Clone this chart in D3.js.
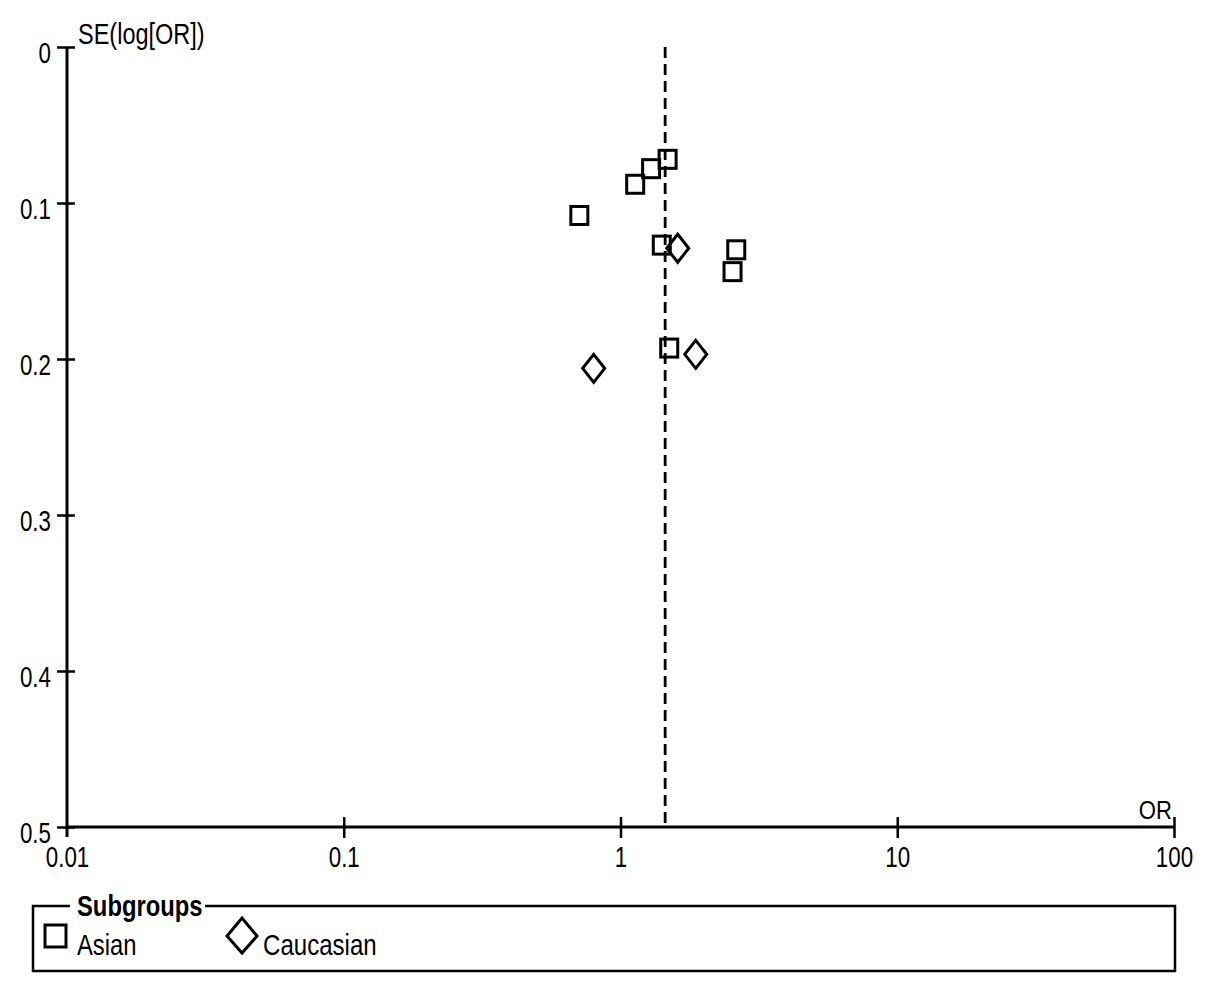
<!DOCTYPE html>
<html><head><meta charset="utf-8">
<script src="https://cdn.jsdelivr.net/npm/d3@7"></script>
<style>
html,body{margin:0;padding:0;background:#fff;}
text{font-family:"Liberation Sans",Arial,sans-serif;fill:#000;}
</style></head>
<body>
<svg id="chart" width="1205" height="990"></svg>
<script>
// Data
const asianOR = [1.48, 1.29, 1.13, 0.71, 1.41, 2.62, 2.54, 1.50];
const asianSE = [0.072, 0.078, 0.088, 0.108, 0.127, 0.130, 0.144, 0.193];
const caucOR  = [1.61, 1.87, 0.80];
const caucSE  = [0.129, 0.197, 0.206];
const pooledOR = 1.45;
const xTicks = [0.01, 0.1, 1, 10, 100];
const xTickLabels = ["0.01", "0.1", "1", "10", "100"];
const yTicks = [0, 0.1, 0.2, 0.3, 0.4, 0.5];
const yTickLabels = ["0", "0.1", "0.2", "0.3", "0.4", "0.5"];
const subgroups = ["Asian", "Caucasian"];

const svg = d3.select("#chart");
const x = d3.scaleLog().domain([0.01, 100]).range([67, 1174]);
const y = d3.scaleLinear().domain([0, 0.5]).range([47, 827]);
const FS = 29;

function squeeze(k){
  return sel => sel.each(function(){
    const w = this.getComputedTextLength();
    d3.select(this).attr("textLength", w*k).attr("lengthAdjust","spacingAndGlyphs");
  });
}

// dashed pooled line
svg.append("line")
  .attr("x1", x(pooledOR)).attr("x2", x(pooledOR))
  .attr("y1", y(0)).attr("y2", y(0.5))
  .attr("stroke", "#000").attr("stroke-width", 2.8)
  .attr("stroke-dasharray", "11,6");

// Y axis
const yAxis = svg.append("g").attr("transform", `translate(${x(0.01)},0)`)
  .call(d3.axisLeft(y).tickValues(yTicks).tickFormat((d,i)=>yTickLabels[i]).tickSize(0).tickPadding(0));
yAxis.select(".domain").remove();
yAxis.selectAll(".tick text").remove();
svg.append("line").attr("x1", x(0.01)).attr("x2", x(0.01)).attr("y1", y(0)).attr("y2", y(0.5)+10)
  .attr("stroke","#000").attr("stroke-width",3);
yAxis.selectAll(".tick").append("line").attr("x1",-10).attr("x2",8).attr("stroke","#000").attr("stroke-width",2.5);
yAxis.selectAll(".tick").append("text")
  .attr("x", -16).attr("y", 15).attr("text-anchor","end")
  .style("font-size", FS+"px").text((d,i)=>yTickLabels[i]).call(squeeze(0.77));

// X axis
const xAxis = svg.append("g").attr("transform", `translate(0,${y(0.5)})`)
  .call(d3.axisBottom(x).tickValues(xTicks).tickFormat((d,i)=>xTickLabels[i]).tickSize(0).tickPadding(0));
xAxis.select(".domain").remove();
xAxis.selectAll(".tick text").remove();
svg.append("line").attr("x1", x(0.01)).attr("x2", x(100)).attr("y1", y(0.5)).attr("y2", y(0.5))
  .attr("stroke","#000").attr("stroke-width",3);
xAxis.selectAll(".tick").filter(d=>d!==0.01).append("line").attr("y1",-10).attr("y2",11).attr("stroke","#000").attr("stroke-width",2.5);
xAxis.selectAll(".tick").append("text")
  .attr("y", 40).attr("text-anchor","middle")
  .style("font-size", FS+"px").text((d,i)=>xTickLabels[i]).call(squeeze(0.77));

// axis titles
svg.append("text").attr("x", 78).attr("y", 44).style("font-size", FS+"px").text("SE(log[OR])").call(squeeze(0.81));
svg.append("text").attr("x", 1172).attr("y", 819).attr("text-anchor","end").style("font-size", "26px").text("OR").call(squeeze(0.85));

// markers
const sqW = 17, sqH = 18;
svg.append("g").selectAll("rect").data(asianOR.map((o,i)=>[o, asianSE[i]])).join("rect")
  .attr("x", d=>x(d[0])-sqW/2).attr("y", d=>y(d[1])-sqH/2)
  .attr("width", sqW).attr("height", sqH)
  .attr("fill","none").attr("stroke","#000").attr("stroke-width",3);
const dw = 11, dh = 14;
svg.append("g").selectAll("path").data(caucOR.map((o,i)=>[o, caucSE[i]])).join("path")
  .attr("d", d=>{const cx=x(d[0]), cy=y(d[1]); return `M${cx},${cy-dh}L${cx+dw},${cy}L${cx},${cy+dh}L${cx-dw},${cy}Z`;})
  .attr("fill","none").attr("stroke","#000").attr("stroke-width",3).attr("stroke-linejoin","miter");

// legend
const lg = svg.append("g");
lg.append("path").attr("d","M70,906 L33,906 L33,971 L1175,971 L1175,906 L205,906")
  .attr("fill","none").attr("stroke","#000").attr("stroke-width",2.5);
lg.append("text").attr("x",77).attr("y",916).style("font-size",FS+"px").style("font-weight","bold").text("Subgroups").call(squeeze(0.82));
lg.append("rect").attr("x",45).attr("y",925).attr("width",21).attr("height",22)
  .attr("fill","none").attr("stroke","#000").attr("stroke-width",3);
lg.append("text").attr("x",77).attr("y",955).style("font-size",FS+"px").text(subgroups[0]).call(squeeze(0.82));
lg.append("path").attr("d","M242,918 L257,936 L242,953 L227,936 Z")
  .attr("fill","none").attr("stroke","#000").attr("stroke-width",3);
lg.append("text").attr("x",263).attr("y",955).style("font-size",FS+"px").text(subgroups[1]).call(squeeze(0.83));
</script>
</body></html>
